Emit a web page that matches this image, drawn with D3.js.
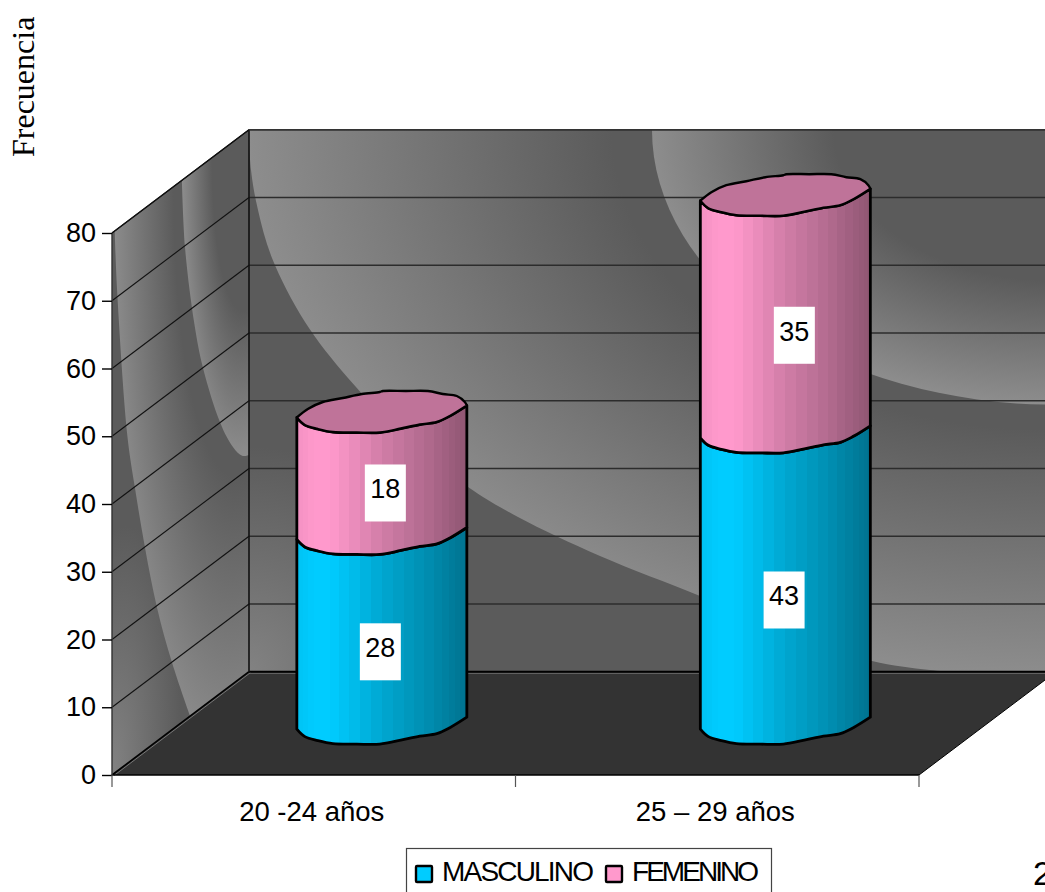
<!DOCTYPE html>
<html lang="es">
<head>
<meta charset="utf-8">
<title>Frecuencia por edad y sexo</title>
<script src="https://cdn.jsdelivr.net/npm/d3@7"></script>
<style>
  html, body { margin: 0; padding: 0; background: #fff; overflow: hidden; }
  svg { display: block; }
  text { font-family: "Liberation Sans", Arial, sans-serif; fill: #000; }
</style>
</head>
<body>
<svg id="chart" width="1045" height="892"></svg>
<script>
// Chart data
const categories = ["20 -24 años", "25 – 29 años"];
const seriesNames = ["MASCULINO", "FEMENINO"];
const masculino = [28, 43];
const femenino = [18, 35];
const valueTicks = [0, 10, 20, 30, 40, 50, 60, 70, 80];

// Label placement relative to the middle of each cylinder segment
const masculinoLabelShift = [[-1.5, 23], [-1.25, 22]];
const femeninoLabelShift = [[3.5, 20], [9, 21.5]];

// Outline of the faceted cylinder cap, as offsets from its centre
const capFront = [[-85,5.5],[-77,13],[-64,17],[-49,20],[-25,20.5],[-2,20.5],[19,16.5],[38,12.5],[55,10],[68,4],[85,-6.5]];
const capBack = [[-85,5.5],[-74,-3],[-59,-10],[-39,-14],[-20,-18],[-2,-20],[1,-21],[24,-21],[46,-21],[61,-18],[75,-16],[83,-10],[85,-6.5]];

// Oblique projection of the box
const depthX = 137, depthY = 103.3;
const barDepth = 0.497;
const plotLeft = 112, plotRight = 919, plotBottom = 775, plotTop = 233;

const x = d3.scaleBand().domain(categories).range([plotLeft, plotRight]);
const y = d3.scaleLinear().domain([0, 80]).range([plotBottom, plotTop]);

const svg = d3.select("#chart");
const defs = svg.append("defs");
const backTop = y(80) - depthY, backBottom = y(0) - depthY, backLeft = plotLeft + depthX;
const backRight = plotRight + depthX;
const wallDark = "#5b5b5b", wallLight = "#8d8d8d";

// Radial shading in user space, stretched to an ellipse
function radial(id, cx, cy, rx, ry, stops) {
  const g = defs.append("radialGradient").attr("id", id)
    .attr("gradientUnits", "userSpaceOnUse")
    .attr("cx", 0).attr("cy", 0).attr("r", 1)
    .attr("gradientTransform", `translate(${cx},${cy}) scale(${rx},${ry})`);
  stops.forEach(([o, c]) => g.append("stop").attr("offset", o).attr("stop-color", c));
}
const swooshStops = [[0, wallDark], [0.55, wallDark], [1, wallLight]];

// Back wall shading
radial("backBase", backLeft, backBottom, 200, 225, [[0, "#828282"], [1, wallDark]]);
radial("backWide", backRight, backTop, 807, 546, swooshStops);
radial("backNear", backRight, backTop, 404, 275, swooshStops);

// Side wall shading, drawn in unit coordinates of the wall
radial("sideBase", 0, 1, 0.5, 0.45, [[0, "#828282"], [1, wallDark]]);
radial("sideWide", 1, 0, 1, 1.15, swooshStops);
radial("sideNear", 1, 0, 0.49, 0.6, swooshStops);

const smooth = d3.line().curve(d3.curveCatmullRom.alpha(0.5));

// Back wall
const back = svg.append("g");
back.append("rect").attr("x", backLeft).attr("y", backTop).attr("width", 850).attr("height", backBottom - backTop).attr("fill", wallDark);
back.append("rect").attr("x", backLeft).attr("y", backTop).attr("width", 850).attr("height", backBottom - backTop).attr("fill", "url(#backBase)");
const wideCurve = [[249,129],[251,170],[258,210],[272,258],[305,322],[348,378],[400,432],[468,487],[518,517],[600,556],[700,596],[790,634],[872,661],[930,670],[980,673]];
back.append("path")
  .attr("d", smooth(wideCurve) + `L1100,673L1100,129Z`)
  .attr("fill", "url(#backWide)");
back.append("clipPath").attr("id", "backClip").append("rect")
  .attr("x", backLeft).attr("y", backTop).attr("width", 850).attr("height", backBottom - backTop);
back.append("ellipse").attr("cx", backRight).attr("cy", backTop).attr("rx", 404).attr("ry", 275)
  .attr("fill", "url(#backNear)").attr("clip-path", "url(#backClip)");

// Side wall, sheared into place
const side = svg.append("g")
  .attr("transform", `matrix(${depthX},${-depthY},0,${plotBottom - plotTop},${plotLeft},${plotTop})`);
side.append("rect").attr("width", 1).attr("height", 1).attr("fill", wallDark);
side.append("rect").attr("width", 1).attr("height", 1).attr("fill", "url(#sideBase)");
const sideWideCurve = [[0.02,0],[0.036,0.107],[0.11,0.39],[0.168,0.503],[0.24,0.625],[0.328,0.753],[0.438,0.876],[0.57,1]];
side.append("path").attr("d", smooth(sideWideCurve) + "L1,1L1,0Z").attr("fill", "url(#sideWide)");
const sideNearCurve = [[0.51,0],[0.533,0.128],[0.6,0.28],[0.664,0.375],[0.788,0.499],[0.883,0.563],[0.95,0.592],[1,0.6]];
side.append("path").attr("d", smooth(sideNearCurve) + "L1,0Z").attr("fill", "url(#sideNear)");

// Gridlines on both walls
const grid = svg.append("g");
grid.selectAll("line.back").data(valueTicks.slice(1)).join("line").attr("class", "back")
  .attr("x1", backLeft).attr("x2", 1045)
  .attr("y1", d => y(d) - depthY).attr("y2", d => y(d) - depthY)
  .attr("stroke", "#2c2c2c").attr("stroke-width", 1.5);
grid.selectAll("line.side").data(valueTicks.slice(1)).join("line").attr("class", "side")
  .attr("x1", plotLeft).attr("x2", backLeft)
  .attr("y1", d => y(d)).attr("y2", d => y(d) - depthY)
  .attr("stroke", "#111").attr("stroke-width", 1.1);

// Floor
const floorPts = [[plotLeft, plotBottom], [backLeft, backBottom], [backRight, backBottom], [plotRight, plotBottom]];
svg.append("polygon").attr("points", floorPts.join(" ")).attr("fill", "#333");

// Box edges
const edges = svg.append("g").attr("fill", "none");
const edge = (a, b, c, w) => edges.append("line")
  .attr("x1", a[0]).attr("y1", a[1]).attr("x2", b[0]).attr("y2", b[1])
  .attr("stroke", c).attr("stroke-width", w);
edge([backLeft, backBottom + 1.5], [1045, backBottom + 1.5], "#777", 1);
edge([plotLeft + 2, plotBottom + 0.5], [backLeft + 2, backBottom + 0.5], "#777", 1);
edge([plotLeft, plotBottom], floorPts[1], "#000", 1.6);
edge(floorPts[1], [1045, backBottom], "#000", 2);
edge(floorPts[3], floorPts[2], "#000", 1);
edge([plotLeft, plotBottom], floorPts[3], "#000", 1.6);
edge([backLeft, backTop], floorPts[1], "#111", 1.6);
edge([plotLeft, y(80)], [plotLeft, plotBottom], "#333", 1.4);
edge([plotLeft, y(80)], [backLeft, backTop], "#111", 1.1);
edge([backLeft, backTop], [1045, backTop], "#333", 1.5);

// Value axis
const yAxis = svg.append("g").attr("transform", `translate(${plotLeft},0)`)
  .call(d3.axisLeft(y).tickValues(valueTicks).tickSize(10).tickPadding(6));
yAxis.select(".domain").remove();
yAxis.selectAll("line").attr("stroke", "#000").attr("stroke-width", 1.4);
yAxis.selectAll("text").style("font-family", '"Liberation Sans", Arial, sans-serif').style("font-size", "27px").attr("fill", "#000");

// Category axis: labels from the band scale, ticks on the band edges
const xAxis = svg.append("g").attr("transform", `translate(-2,${plotBottom})`)
  .call(d3.axisBottom(x).tickSize(0).tickPadding(26));
xAxis.select(".domain").remove();
xAxis.selectAll("text").style("font-family", '"Liberation Sans", Arial, sans-serif').style("font-size", "27.5px").attr("fill", "#000");
svg.append("g").selectAll("line")
  .data([...categories.map(c => x(c)), plotRight]).join("line")
  .attr("x1", d => d).attr("x2", d => d).attr("y1", plotBottom).attr("y2", plotBottom + 12)
  .attr("stroke", "#555").attr("stroke-width", 1.2);

// Faceted horizontal shading for the cylinder bodies
const shade = d3.scaleLinear().domain([0, 0.1, 0.2, 0.5, 0.75, 1]).range([0.95, 1, 1, 0.82, 0.7, 0.56]);
const facets = 24;
function facetGradient(id, base) {
  const g = defs.append("linearGradient").attr("id", id);
  const rgb = d3.rgb(base);
  d3.range(facets).forEach(i => {
    const a = (1 - Math.cos(Math.PI * i / facets)) / 2;
    const b = (1 - Math.cos(Math.PI * (i + 1) / facets)) / 2;
    const k = shade((a + b) / 2);
    const col = d3.rgb(rgb.r * k, rgb.g * k, rgb.b * k).formatHex();
    g.append("stop").attr("offset", a).attr("stop-color", col);
    g.append("stop").attr("offset", b).attr("stop-color", col);
  });
}
const seriesColors = ["#00ccff", "#ff99cc"];
facetGradient("bodyMasculino", seriesColors[0]);
facetGradient("bodyFemenino", seriesColors[1]);

// Stacked cylinders
const table = categories.map((c, i) => ({ cat: c, MASCULINO: masculino[i], FEMENINO: femenino[i] }));
const stacked = d3.stack().keys(seriesNames)(table);
const barX = d => x(d.data.cat) + x.bandwidth() / 2 + depthX * barDepth;
const barY = v => y(v) - depthY * barDepth;

// Smooth cap arc placed at a centre; with `join` it continues an open path
const arcLine = d3.line().curve(d3.curveCatmullRom.alpha(0.5));
const arcAt = (pts, cx, cy, join) => {
  const s = arcLine(pts.map(p => [cx + p[0], cy + p[1]]));
  return join ? "L" + s.slice(1) : s;
};

const bars = svg.append("g").attr("stroke", "#000").attr("stroke-linejoin", "round");
stacked.forEach((layer, s) => {
  bars.append("g").selectAll("path").data(layer).join("path")
    .attr("fill", `url(#${s === 0 ? "bodyMasculino" : "bodyFemenino"})`)
    .attr("stroke-width", 2.8)
    .attr("d", d => {
      const cx = barX(d), top = barY(d[1]), bottom = barY(d[0]);
      return arcAt(capFront, cx, top) + arcAt(capFront.slice().reverse(), cx, bottom, true) + "Z";
    });
});
const topLayer = stacked[stacked.length - 1];
bars.append("g").selectAll("path").data(topLayer).join("path")
  .attr("fill", d3.rgb(255 * 0.75, 153 * 0.75, 204 * 0.75).formatHex())
  .attr("stroke-width", 2.4)
  .attr("d", d => {
    const cx = barX(d), cy = barY(d[1]);
    return arcAt(capBack, cx, cy) + arcAt(capFront.slice().reverse(), cx, cy, true) + "Z";
  });

// Value labels on white plates
const shifts = [masculinoLabelShift, femeninoLabelShift];
const labels = svg.append("g");
stacked.forEach((layer, s) => {
  layer.forEach((d, i) => {
    const cx = barX(d) + shifts[s][i][0];
    const cy = barY((d[0] + d[1]) / 2) + shifts[s][i][1];
    labels.append("rect").attr("x", cx - 20.5).attr("y", cy - 28.5).attr("width", 41).attr("height", 57).attr("fill", "#fff");
    labels.append("text").attr("x", cx).attr("y", cy + 5.5).attr("text-anchor", "middle")
      .style("font-size", "27px").text(d[1] - d[0]);
  });
});

// Axis title
svg.append("text")
  .attr("transform", "translate(34,157) rotate(-90)")
  .style("font-family", '"Liberation Serif", "Times New Roman", serif')
  .style("font-size", "32px")
  .text("Frecuencia");

// Legend
const legend = svg.append("g");
legend.append("rect").attr("x", 406.5).attr("y", 848.5).attr("width", 365).attr("height", 60)
  .attr("fill", "#fff").attr("stroke", "#444").attr("stroke-width", 1.2);
const legendSwatchX = [416, 606], legendTextX = [442, 632], legendTextW = [152, 127];
seriesNames.forEach((name, i) => {
  legend.append("rect").attr("x", legendSwatchX[i]).attr("y", 866).attr("width", 16).attr("height", 16)
    .attr("rx", 1).attr("fill", seriesColors[i]).attr("stroke", "#000").attr("stroke-width", 2.4);
  legend.append("text").attr("x", legendTextX[i]).attr("y", 881)
    .attr("textLength", legendTextW[i]).attr("lengthAdjust", "spacing")
    .style("font-size", "28px").text(name);
});

// Page number at the sheet edge
svg.append("text").attr("x", 1033).attr("y", 885).style("font-size", "34px").text("2");
</script>
</body>
</html>
